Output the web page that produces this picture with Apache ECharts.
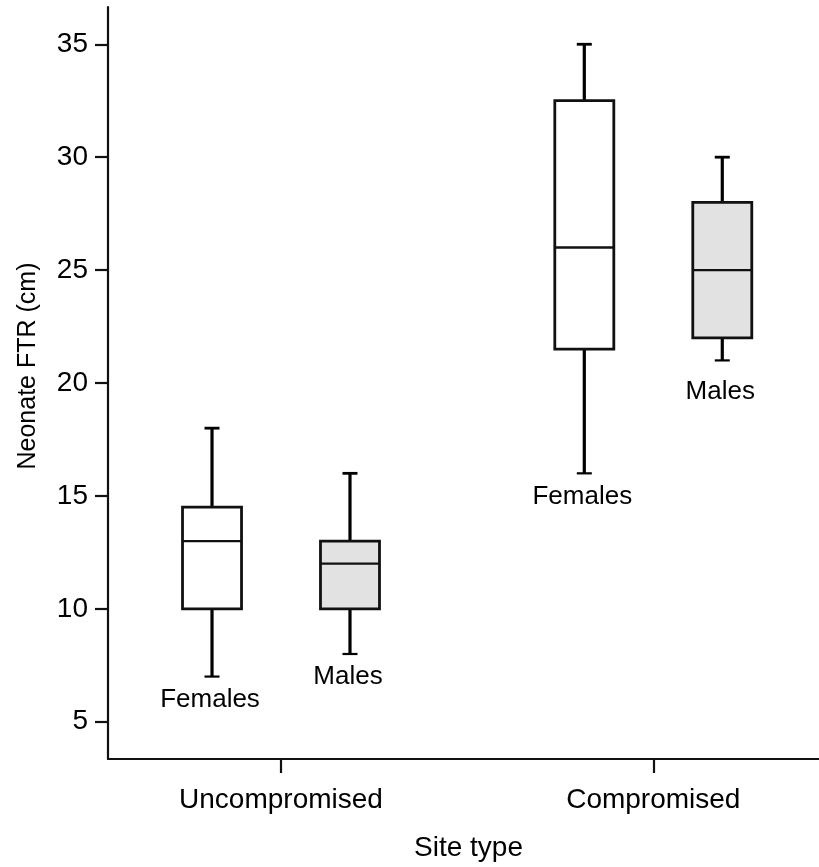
<!DOCTYPE html>
<html>
<head>
<meta charset="utf-8">
<script src="https://cdn.jsdelivr.net/npm/echarts@6/dist/echarts.min.js"></script>
<style>
  html, body { margin: 0; padding: 0; background: #fff; }
  #chart { width: 819px; height: 867px; }
</style>
</head>
<body>
<div id="chart"></div>
<script>
// Site types along the x axis and the sex of each box
const siteTypes = ['Uncompromised', 'Compromised'];
const sexLabels = ['Females', 'Males'];

// Box statistics per site type: [lower whisker, Q1, median, Q3, upper whisker]
const femalesStats = [
  [7, 10, 13, 14.5, 18],
  [16, 21.5, 26, 32.5, 35]
];
const malesStats = [
  [8, 10, 12, 13, 16],
  [21, 22, 25, 28, 30]
];

// Tick values on the y axis
const yTicks = [5, 10, 15, 20, 25, 30, 35];

const FONT = '"Liberation Sans", Arial, Helvetica, sans-serif';
const BOX_OFFSET = 0.1853;   // distance of each box from its site-type tick (x units)
const BOX_WIDTH = 0.1585;    // box width (x units)
const CAP_WIDTH = 0.0403;    // whisker cap width (x units)
// pixel gap between the lower whisker end and the group label, per site type
const LABEL_GAP = { Females: [10, 10], Males: [10, 18] };

function toSeriesData(stats, side) {
  return stats.map((s, i) => [i + 1 + side * BOX_OFFSET].concat(s));
}

function makeRenderer(fill, label) {
  return function (params, api) {
    const x = api.value(0);
    const lo = api.coord([x, api.value(1)]);
    const q1 = api.coord([x, api.value(2)]);
    const md = api.coord([x, api.value(3)]);
    const q3 = api.coord([x, api.value(4)]);
    const hi = api.coord([x, api.value(5)]);
    const hw = api.size([BOX_WIDTH, 0])[0] / 2;
    const cw = api.size([CAP_WIDTH, 0])[0] / 2;
    const cx = lo[0];
    const line = { stroke: '#000', lineWidth: 3.2 };
    return {
      type: 'group',
      children: [
        { type: 'line', shape: { x1: cx, y1: hi[1], x2: cx, y2: q3[1] }, style: line },
        { type: 'line', shape: { x1: cx, y1: q1[1], x2: cx, y2: lo[1] }, style: line },
        { type: 'line', shape: { x1: cx - cw, y1: hi[1], x2: cx + cw, y2: hi[1] }, style: { stroke: '#000', lineWidth: 2.8 } },
        { type: 'line', shape: { x1: cx - cw, y1: lo[1], x2: cx + cw, y2: lo[1] }, style: { stroke: '#000', lineWidth: 2.2 } },
        { type: 'rect', shape: { x: cx - hw, y: q3[1], width: hw * 2, height: q1[1] - q3[1] },
          style: { fill: fill, stroke: '#111', lineWidth: 2.8 } },
        { type: 'line', shape: { x1: cx - hw, y1: md[1], x2: cx + hw, y2: md[1] }, style: { stroke: '#111', lineWidth: 2.4 } },
        { type: 'text', x: cx - 2, y: lo[1] + LABEL_GAP[label][params.dataIndex],
          style: { text: label, fill: '#000', font: '26px ' + FONT, align: 'center', verticalAlign: 'top' } }
      ]
    };
  };
}

const chart = echarts.init(document.getElementById('chart'), null, { renderer: 'canvas' });

chart.setOption({
  animation: false,
  backgroundColor: '#fff',
  grid: { left: 108, right: 0, top: 7, bottom: 107, containLabel: false },
  xAxis: {
    type: 'value',
    min: 0.5353,
    max: 2.4451,
    splitLine: { show: false },
    axisLine: { show: true, onZero: false, lineStyle: { color: '#111', width: 2.2 } },
    axisTick: { show: true, customValues: [1, 2], length: 14, lineStyle: { color: '#111', width: 2.2 } },
    axisLabel: {
      customValues: [1, 2],
      margin: 27,
      formatter: v => siteTypes[Math.round(v) - 1],
      color: '#000',
      fontSize: 28,
      fontFamily: FONT
    },
    name: 'Site type',
    nameLocation: 'middle',
    nameGap: 75,
    nameTextStyle: { color: '#000', fontSize: 28, fontFamily: FONT, padding: [0, 0, 0, 10] }
  },
  yAxis: {
    type: 'value',
    min: 3.35,
    max: 36.65,
    splitLine: { show: false },
    axisLine: { show: true, onZero: false, lineStyle: { color: '#111', width: 2.2 } },
    axisTick: { show: true, customValues: yTicks, length: 13, lineStyle: { color: '#111', width: 2.2 } },
    axisLabel: {
      customValues: yTicks,
      margin: 20,
      color: '#000',
      fontSize: 28,
      fontFamily: FONT
    }
  },
  graphic: [{
    type: 'text',
    x: 28,
    y: 366,
    rotation: Math.PI / 2,
    style: {
      text: 'Neonate FTR (cm)',
      fill: '#000',
      font: '25px ' + FONT,
      align: 'center',
      verticalAlign: 'middle'
    }
  }],
  series: [
    {
      name: sexLabels[0],
      type: 'custom',
      renderItem: makeRenderer('#ffffff', sexLabels[0]),
      encode: { x: 0, y: [1, 2, 3, 4, 5] },
      data: toSeriesData(femalesStats, -1),
      clip: false
    },
    {
      name: sexLabels[1],
      type: 'custom',
      renderItem: makeRenderer('#e2e2e2', sexLabels[1]),
      encode: { x: 0, y: [1, 2, 3, 4, 5] },
      data: toSeriesData(malesStats, 1),
      clip: false
    }
  ]
});
</script>
</body>
</html>
